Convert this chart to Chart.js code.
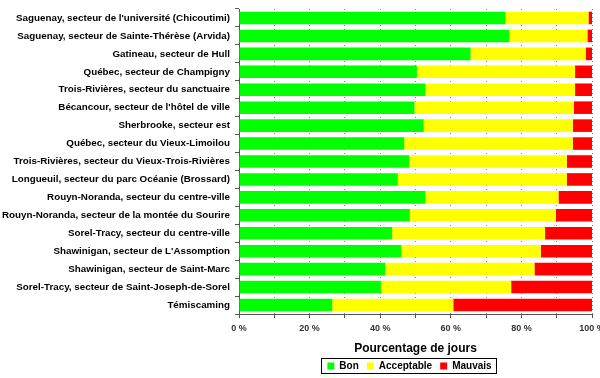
<!DOCTYPE html>
<html>
<head>
<meta charset="utf-8">
<script src="https://cdn.jsdelivr.net/npm/chart.js@4/dist/chart.umd.min.js"></script>
<style>
  html, body { margin: 0; padding: 0; background: #fff; }
  #wrap { width: 600px; height: 378px; }
</style>
</head>
<body>
<div id="wrap"><canvas id="qualiteChart" width="600" height="378"></canvas></div>
<script>
// Stations et pourcentages de jours
const stations = [
  "Saguenay, secteur de l'université (Chicoutimi)",
  "Saguenay, secteur de Sainte-Thérèse (Arvida)",
  "Gatineau, secteur de Hull",
  "Québec, secteur de Champigny",
  "Trois-Rivières, secteur du sanctuaire",
  "Bécancour, secteur de l'hôtel de ville",
  "Sherbrooke, secteur est",
  "Québec, secteur du Vieux-Limoilou",
  "Trois-Rivières, secteur du Vieux-Trois-Rivières",
  "Longueuil, secteur du parc Océanie (Brossard)",
  "Rouyn-Noranda, secteur du centre-ville",
  "Rouyn-Noranda, secteur de la montée du Sourire",
  "Sorel-Tracy, secteur du centre-ville",
  "Shawinigan, secteur de L'Assomption",
  "Shawinigan, secteur de Saint-Marc",
  "Sorel-Tracy, secteur de Saint-Joseph-de-Sorel",
  "Témiscaming"
];
const bon        = [75.5, 76.6, 65.6, 50.4, 52.8, 49.7, 52.3, 46.8, 48.2, 45.0, 52.8, 48.4, 43.4, 46.0, 41.4, 40.2, 26.4];
const acceptable = [23.5, 22.1, 32.6, 44.8, 42.4, 45.2, 42.3, 47.8, 44.7, 47.9, 37.7, 41.4, 43.3, 39.5, 42.3, 36.9, 34.3];
const mauvais    = [1.0, 1.3, 1.8, 4.8, 4.8, 5.1, 5.4, 5.4, 7.1, 7.1, 9.5, 10.2, 13.3, 14.5, 16.3, 22.9, 39.3];
const xTicks = [0, 20, 40, 60, 80, 100];

const police = "'Liberation Sans', Arial, sans-serif";

// légende centrée sous la zone du graphique, avec un cadre
const legendeExcel = {
  id: 'legendeExcel',
  afterLayout(chart) {
    const lg = chart.legend, ca = chart.chartArea;
    if (!lg) return;
    const h = lg.height;
    lg.left = ca.left - 6;
    lg.right = ca.right - 6;
    lg.width = lg.right - lg.left;
    lg.top = 353;
    lg.bottom = lg.top + h;
  },
  afterDraw(chart) {
    const boxes = chart.legend && chart.legend.legendHitBoxes;
    if (!boxes || !boxes.length) return;
    const left = Math.min(...boxes.map(b => b.left)) - 6;
    const right = Math.max(...boxes.map(b => b.left + b.width)) + 5;
    const mid = boxes[0].top + boxes[0].height / 2;
    const ctx = chart.ctx;
    ctx.save();
    ctx.strokeStyle = '#000';
    ctx.lineWidth = 1;
    ctx.strokeRect(Math.round(left) + 0.5, Math.round(mid - 8) + 0.5, Math.round(right - left), 15);
    ctx.restore();
  }
};

const ctx = document.getElementById('qualiteChart').getContext('2d');

new Chart(ctx, {
  type: 'bar',
  data: {
    labels: stations,
    datasets: [
      { label: 'Bon', data: bon, backgroundColor: '#00ff00' },
      { label: 'Acceptable', data: acceptable, backgroundColor: '#ffff00' },
      { label: 'Mauvais', data: mauvais, backgroundColor: '#ff0000' }
    ].map(d => Object.assign(d, {
      borderWidth: 0,
      barPercentage: 0.7,
      categoryPercentage: 1
    }))
  },
  options: {
    responsive: false,
    animation: false,
    indexAxis: 'y',
    layout: { padding: { top: 9, right: 8, left: 0, bottom: -6 } },
    scales: {
      x: {
        stacked: true,
        min: 0,
        max: 100,
        ticks: {
          stepSize: 10,
          autoSkip: false,
          maxRotation: 0,
          padding: 5,
          color: '#333',
          font: { size: 9, weight: 'bold', family: police },
          callback: v => xTicks.includes(v) ? v + ' %' : ''
        },
        grid: {
          color: '#8a8a8a',
          tickColor: '#555',
          tickLength: 4,
          drawTicks: true
        },
        border: { color: '#555', dash: [1, 3] },
        title: {
          display: true,
          text: 'Pourcentage de jours',
          color: '#000',
          padding: { top: 0, bottom: 0 },
          font: { size: 12, weight: 'bold', family: police }
        },
        afterFit: s => { s.height = 42; s.paddingRight = 0; s.paddingLeft = 0; }
      },
      y: {
        stacked: true,
        ticks: {
          padding: 5,
          color: '#000',
          autoSkip: false,
          font: { size: 9.8, weight: 'bold', family: police }
        },
        grid: {
          offset: true,
          drawOnChartArea: false,
          tickLength: 4,
          tickColor: '#555'
        },
        border: { color: '#555' },
        afterFit: s => { s.width = 239; s.paddingTop = 0; s.paddingBottom = 0; }
      }
    },
    plugins: {
      legend: {
        position: 'bottom',
        labels: {
          boxWidth: 7,
          boxHeight: 7,
          padding: 8,
          color: '#000',
          font: { size: 10, weight: 'bold', family: police }
        }
      },
      tooltip: { enabled: false },
      title: { display: false }
    }
  },
  plugins: [legendeExcel]
});
</script>
</body>
</html>
